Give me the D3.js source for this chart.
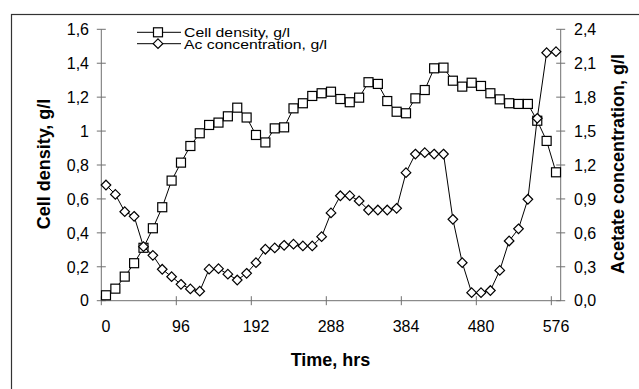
<!DOCTYPE html>
<html>
<head>
<meta charset="utf-8">
<script src="https://cdn.jsdelivr.net/npm/d3@7"></script>
<style>
  body { margin: 0; background: #fff; }
  text { font-family: "Liberation Sans", Arial, sans-serif; fill: #000; }
</style>
</head>
<body>
<div id="chart"></div>
<script>
// sampling times, hrs (one sample every 12 h)
var hours = [0, 12, 24, 36, 48, 60, 72, 84, 96, 108, 120, 132, 144, 156, 168, 180, 192,
  204, 216, 228, 240, 252, 264, 276, 288, 300, 312, 324, 336, 348, 360, 372, 384,
  396, 408, 420, 432, 444, 456, 468, 480, 492, 504, 516, 528, 540, 552, 564, 576];

// cell density, g/l (left axis)
var cellDensity = [0.032, 0.071, 0.142, 0.221, 0.312, 0.427, 0.551, 0.708, 0.814, 0.912,
  0.987, 1.036, 1.05, 1.087, 1.138, 1.08, 0.977, 0.933, 1.016, 1.022, 1.134, 1.164,
  1.207, 1.223, 1.232, 1.189, 1.17, 1.197, 1.288, 1.278, 1.177, 1.114, 1.105, 1.193,
  1.242, 1.37, 1.374, 1.297, 1.262, 1.285, 1.266, 1.223, 1.187, 1.164, 1.16, 1.16,
  1.061, 0.942, 0.757];

// acetate concentration, g/l (right axis)
var acetate = [1.023, 0.94, 0.787, 0.746, 0.478, 0.401, 0.278, 0.212, 0.145, 0.104,
  0.084, 0.279, 0.283, 0.235, 0.183, 0.242, 0.336, 0.455, 0.467, 0.49, 0.5, 0.484,
  0.484, 0.566, 0.776, 0.928, 0.929, 0.882, 0.802, 0.802, 0.802, 0.817, 1.132, 1.297,
  1.309, 1.297, 1.297, 0.72, 0.336, 0.071, 0.071, 0.09, 0.268, 0.528, 0.636, 0.897,
  1.613, 2.193, 2.202];

var xTicks = [0, 96, 192, 288, 384, 480, 576];
var leftTicks = [0, 0.2, 0.4, 0.6, 0.8, 1, 1.2, 1.4, 1.6];
var rightTicks = [0, 0.3, 0.6, 0.9, 1.2, 1.5, 1.8, 2.1, 2.4];

var w = 639, h = 389;
var plotLeft = 101.3, plotRight = 560.7, plotTop = 29.3, plotBottom = 300.7;
var axisColor = "#707070";

var loc = d3.formatLocale({decimal: ",", thousands: ".", grouping: [3], currency: ["", ""]});
var fmtLeft = loc.format(".1~f");
var fmtRight = loc.format(".1f");

var svg = d3.select("#chart").append("svg")
    .attr("width", w)
    .attr("height", h);

// outer chart frame (runs off the picture on right and bottom)
svg.append("rect")
    .attr("x", 11.5).attr("y", 14.5)
    .attr("width", 700).attr("height", 500)
    .attr("fill", "#fff")
    .attr("stroke", "#333").attr("stroke-width", 1.2);

// category axis: ticks between categories, labels on categories
var x = d3.scaleBand().domain(hours).range([plotLeft, plotRight]).padding(0);
var bw = x.bandwidth();
function cx(t) { return x(t) + bw / 2; }

var y = d3.scaleLinear().domain([0, 1.6]).range([plotBottom, plotTop]);
var y2 = d3.scaleLinear().domain([0, 2.4]).range([plotBottom, plotTop]);

// y axes
var gl = svg.append("g");
gl.append("line").attr("x1", plotLeft).attr("x2", plotLeft).attr("y1", plotTop).attr("y2", plotBottom)
    .attr("stroke", axisColor);
gl.selectAll("line.tk").data(leftTicks).enter().append("line").attr("class", "tk")
    .attr("x1", plotLeft - 4.5).attr("x2", plotLeft + 4.5)
    .attr("y1", function(d) { return y(d); }).attr("y2", function(d) { return y(d); })
    .attr("stroke", axisColor);
gl.selectAll("text").data(leftTicks).enter().append("text")
    .attr("x", 89).attr("y", function(d) { return y(d); })
    .attr("dy", "0.36em")
    .attr("text-anchor", "end")
    .style("font-size", "16px")
    .text(fmtLeft);

var gr = svg.append("g");
gr.append("line").attr("x1", plotRight).attr("x2", plotRight).attr("y1", plotTop).attr("y2", plotBottom)
    .attr("stroke", axisColor);
gr.selectAll("line.tk").data(rightTicks).enter().append("line").attr("class", "tk")
    .attr("x1", plotRight - 4.5).attr("x2", plotRight + 4.5)
    .attr("y1", function(d) { return y2(d); }).attr("y2", function(d) { return y2(d); })
    .attr("stroke", axisColor);
gr.selectAll("text").data(rightTicks).enter().append("text")
    .attr("x", 574).attr("y", function(d) { return y2(d); })
    .attr("dy", "0.36em")
    .style("font-size", "16px")
    .text(fmtRight);

// x axis
var gx = svg.append("g");
gx.append("line").attr("x1", plotLeft).attr("x2", plotRight).attr("y1", plotBottom).attr("y2", plotBottom)
    .attr("stroke", axisColor);
gx.selectAll("line.tk").data(xTicks).enter().append("line").attr("class", "tk")
    .attr("x1", function(d) { return x(d); }).attr("x2", function(d) { return x(d); })
    .attr("y1", plotBottom - 4.5).attr("y2", plotBottom + 4.5)
    .attr("stroke", axisColor);
gx.selectAll("text").data(xTicks).enter().append("text")
    .attr("x", function(d) { return cx(d); }).attr("y", 331.5)
    .attr("text-anchor", "middle")
    .style("font-size", "16px")
    .text(function(d) { return d; });

// axis titles
svg.append("text")
    .attr("transform", "translate(50,164) rotate(-90)")
    .attr("text-anchor", "middle")
    .style("font-size", "18px").style("font-weight", "bold")
    .text("Cell density, g/l");
svg.append("text")
    .attr("transform", "translate(624,164) rotate(-90)")
    .attr("text-anchor", "middle")
    .style("font-size", "18px").style("font-weight", "bold")
    .text("Acetate concentration, g/l");
svg.append("text")
    .attr("x", 330.5).attr("y", 366)
    .attr("text-anchor", "middle")
    .style("font-size", "18px").style("font-weight", "bold")
    .text("Time, hrs");

// markers
var diamondPath = "M0,-4.8L4.8,0L0,4.8L-4.8,0Z";
function drawSquare(g, px, py) {
    g.append("rect").attr("x", px - 4.5).attr("y", py - 4.5)
        .attr("width", 9).attr("height", 9)
        .attr("fill", "#fff").attr("stroke", "#000").attr("stroke-width", 1.2);
}
function drawDiamond(g, px, py) {
    g.append("path").attr("d", diamondPath)
        .attr("transform", "translate(" + px + "," + py + ")")
        .attr("fill", "#fff").attr("stroke", "#000").attr("stroke-width", 1.2);
}

// cell density series
var lineCell = d3.line()
    .x(function(d, i) { return cx(hours[i]); })
    .y(function(d) { return y(d); });
svg.append("path").datum(cellDensity)
    .attr("d", lineCell)
    .attr("fill", "none").attr("stroke", "#000").attr("stroke-width", 1);
var gCell = svg.append("g");
cellDensity.forEach(function(d, i) { drawSquare(gCell, cx(hours[i]), y(d)); });

// acetate series
var lineAc = d3.line()
    .x(function(d, i) { return cx(hours[i]); })
    .y(function(d) { return y2(d); });
svg.append("path").datum(acetate)
    .attr("d", lineAc)
    .attr("fill", "none").attr("stroke", "#000").attr("stroke-width", 1);
var gAc = svg.append("g");
acetate.forEach(function(d, i) { drawDiamond(gAc, cx(hours[i]), y2(d)); });

// legend (text is tightly stacked, a bit wide and squat like the original)
var legend = svg.append("g");
var rows = [{label: "Cell density, g/l", y: 32.3, mark: drawSquare},
            {label: "Ac concentration, g/l", y: 43.7, mark: drawDiamond}];
rows.forEach(function(r) {
    legend.append("line").attr("x1", 137).attr("x2", 181).attr("y1", r.y).attr("y2", r.y)
        .attr("stroke", "#000");
    r.mark(legend, 158, r.y);
    legend.append("text")
        .attr("transform", "translate(184," + r.y + ") scale(1.17,1)")
        .attr("dy", "0.36em")
        .style("font-size", "13.5px")
        .text(r.label);
});
</script>
</body>
</html>
